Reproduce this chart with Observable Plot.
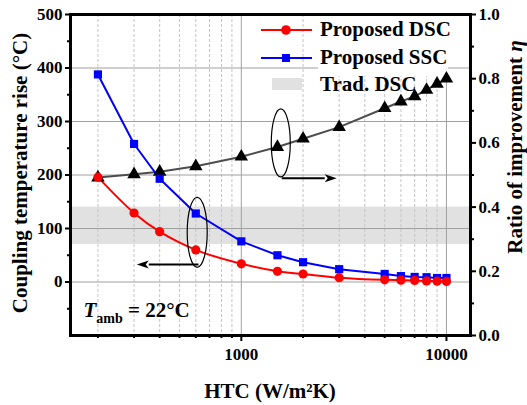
<!DOCTYPE html>
<html><head><meta charset="utf-8">
<script src="https://cdn.jsdelivr.net/npm/d3@7"></script>
<script src="https://cdn.jsdelivr.net/npm/@observablehq/plot@0.6"></script>
<style>
body{margin:0;background:#fff;}
#chart{position:relative;width:527px;height:405px;}
</style></head><body><div id="chart"></div>
<script>
// ---- data ----
const htc = [200, 300, 400, 600, 1000, 1500, 2000, 3000, 5000, 6000, 7000, 8000, 9000, 10000];
const dscRise = [196, 129, 94, 60, 34, 20, 15, 8, 4, 3.5, 3, 2, 1.5, 1];
const sscRise = [388, 258, 193, 128, 76, 50, 37, 24, 15, 11, 9.5, 9, 7.5, 7.5];
const ratioEta = [0.492, 0.502, 0.510, 0.527, 0.557, 0.587, 0.613, 0.649, 0.708, 0.729, 0.745, 0.765, 0.784, 0.800];
const tradBand = [70, 140];
const leftTicks = [0, 100, 200, 300, 400, 500];
const leftMinor = [-50, 50, 150, 250, 350, 450];
const rightTicks = [0, 0.2, 0.4, 0.6, 0.8, 1.0];
const rightMinor = [0.1, 0.3, 0.5, 0.7, 0.9];
const xTickLabels = [1000, 10000];
const xMinor = [200, 300, 400, 500, 600, 700, 800, 900, 2000, 3000, 4000, 5000, 6000, 7000, 8000, 9000];
const xDomain = [147, 13100];
const yDomain = [-100, 500];
const legendLabels = ["Proposed DSC", "Proposed SSC", "Trad. DSC"];
const xTitle = "HTC (W/m²K)";
const yTitle = "Coupling temperature rise (°C)";
const y2Title = "Ratio of improvement ";
// annotation anchors in data coordinates
const ellipseAnchors = [{htc: 1566, rise: 259}, {htc: 613, rise: 92}];
const arrowAnchors = [{from: 1583, to: 2935, rise: 193}, {from: 622, to: 311, rise: 32}];
const tambAnchor = {htc: 171, rise: -67};

// eta (right axis) <-> rise (left axis)
const toY = e => e * 600 - 100;
const fromY = y => (y + 100) / 600;

const rows = htc.map((h, i) => ({htc: h, dsc: dscRise[i], ssc: sscRise[i], eta: toY(ratioEta[i])}));
const F = '"Liberation Serif", "Times New Roman", serif';

const chart = Plot.plot({
  width: 527, height: 405,
  marginLeft: 70, marginRight: 57, marginTop: 14, marginBottom: 70,
  style: `font-family:${F};font-weight:bold;font-size:17px;background:white;color:black;overflow:visible;`,
  x: {type: "log", domain: xDomain},
  y: {domain: yDomain},
  marks: [
    Plot.rect([tradBand], {x1: () => xDomain[0], x2: () => xDomain[1], y1: d => d[0], y2: d => d[1], fill: "#e1e1e1"}),
    Plot.gridX({ticks: xMinor, stroke: "#c4c4c4", strokeOpacity: 1, strokeDasharray: "3,2"}),
    Plot.gridX({ticks: xTickLabels, stroke: "#a0a0a0", strokeOpacity: 1}),
    Plot.gridY({ticks: leftTicks.filter(v => v < 500), stroke: "#a0a0a0", strokeOpacity: 1}),
    Plot.line(rows, {x: "htc", y: "eta", stroke: "#4d4d4d", strokeWidth: 2}),
    Plot.line(rows, {x: "htc", y: "ssc", stroke: "#0000ff", strokeWidth: 2}),
    Plot.line(rows, {x: "htc", y: "dsc", stroke: "#ff0000", strokeWidth: 2, curve: "catmull-rom"}),
    Plot.dot(rows, {x: "htc", y: "eta", symbol: "triangle", fill: "black", r: 5}),
    Plot.dot(rows, {x: "htc", y: "ssc", symbol: "square", fill: "#0000ff", r: 4.6}),
    Plot.dot(rows, {x: "htc", y: "dsc", symbol: "circle", fill: "#ff0000", r: 4.6}),
    Plot.frame({stroke: "black", strokeWidth: 3}),
    Plot.axisY({ticks: leftTicks, anchor: "left", tickSize: 5, tickPadding: 3, strokeWidth: 2, label: null}),
    Plot.axisY({ticks: leftMinor, anchor: "left", tickSize: 3, strokeWidth: 2, tickFormat: () => "", label: null}),
    Plot.axisY({ticks: rightTicks.map(toY), anchor: "right", tickSize: 5, tickPadding: 3, strokeWidth: 2, tickFormat: v => fromY(v).toFixed(1), label: null}),
    Plot.axisY({ticks: rightMinor.map(toY), anchor: "right", tickSize: 3, strokeWidth: 2, tickFormat: () => "", label: null}),
    Plot.axisX({ticks: xTickLabels, tickSize: 6, tickPadding: 6, strokeWidth: 2, tickFormat: d => String(d), label: null}),
    Plot.axisX({ticks: xMinor, tickSize: 3, strokeWidth: 2, tickFormat: () => "", label: null})
  ]
});
document.getElementById("chart").appendChild(chart);

const sx = chart.scale("x"), sy = chart.scale("y");
const X = v => sx.apply(v), Y = v => sy.apply(v);
const svg = d3.select(chart);
const NS = "http://www.w3.org/2000/svg";

// legend white background behind the text, below the data
const firstLine = chart.querySelector('g[aria-label="line"]');
const bg = document.createElementNS(NS, "rect");
bg.setAttribute("x", 318); bg.setAttribute("y", 16); bg.setAttribute("width", 130); bg.setAttribute("height", 60);
bg.setAttribute("fill", "white");
firstLine.parentNode.insertBefore(bg, firstLine);

const ann = svg.append("g");
// ellipses
const radii = [[9.5, 34], [10, 35]];
ellipseAnchors.forEach((e, i) => {
  ann.append("ellipse").attr("cx", X(e.htc)).attr("cy", Y(e.rise))
    .attr("rx", radii[i][0]).attr("ry", radii[i][1])
    .attr("fill", "none").attr("stroke", "black").attr("stroke-width", 1.2);
});
// arrows
arrowAnchors.forEach(a => {
  const x1 = X(a.from), x2 = X(a.to), y = Y(a.rise);
  const dir = Math.sign(x2 - x1), hl = 12, hw = 4;
  ann.append("line").attr("x1", x1).attr("x2", x2 - dir * hl).attr("y1", y).attr("y2", y)
    .attr("stroke", "black").attr("stroke-width", 2);
  ann.append("path").attr("d", `M${x2},${y}L${x2 - dir * hl},${y - hw}L${x2 - dir * hl * 0.75},${y}L${x2 - dir * hl},${y + hw}Z`)
    .attr("fill", "black");
});
// T_amb label
const t = ann.append("text").attr("x", X(tambAnchor.htc)).attr("y", Y(tambAnchor.rise))
  .attr("text-anchor", "start")
  .attr("font-family", F).attr("font-weight", "bold").attr("font-size", 21).attr("fill", "black");
t.append("tspan").attr("font-style", "italic").text("T");
t.append("tspan").attr("font-size", 14).attr("dy", 6).text("amb");
t.append("tspan").attr("dy", -6).text(" = 22°C");

// legend
const lg = svg.append("g").attr("font-family", F).attr("font-weight", "bold").attr("font-size", 21)
  .attr("fill", "black").attr("text-anchor", "start");
const rowsY = [36, 64, 91];
lg.append("line").attr("x1", 261).attr("x2", 312).attr("y1", 30).attr("y2", 30).attr("stroke", "#ff0000").attr("stroke-width", 2);
lg.append("circle").attr("cx", 286).attr("cy", 30).attr("r", 4.8).attr("fill", "#ff0000");
lg.append("line").attr("x1", 261).attr("x2", 312).attr("y1", 58).attr("y2", 58).attr("stroke", "#0000ff").attr("stroke-width", 2);
lg.append("rect").attr("x", 282).attr("y", 54).attr("width", 8).attr("height", 8).attr("fill", "#0000ff");
lg.append("rect").attr("x", 272).attr("y", 78).attr("width", 30).attr("height", 12).attr("fill", "#e1e1e1");
legendLabels.forEach((l, i) => lg.append("text").attr("x", 320).attr("y", rowsY[i]).text(l));

// axis titles
const tg = svg.append("g").attr("font-family", F).attr("font-weight", "bold").attr("font-size", 21).attr("fill", "black").attr("text-anchor", "middle");
tg.append("text").attr("x", 270).attr("y", 398).text(xTitle);
tg.append("text").attr("transform", "translate(27,173) rotate(-90)").text(yTitle);
const r = tg.append("text").attr("transform", "translate(522,147) rotate(-90)");
r.append("tspan").text(y2Title);
r.append("tspan").attr("font-style", "italic").text("η");
</script>
</body></html>
